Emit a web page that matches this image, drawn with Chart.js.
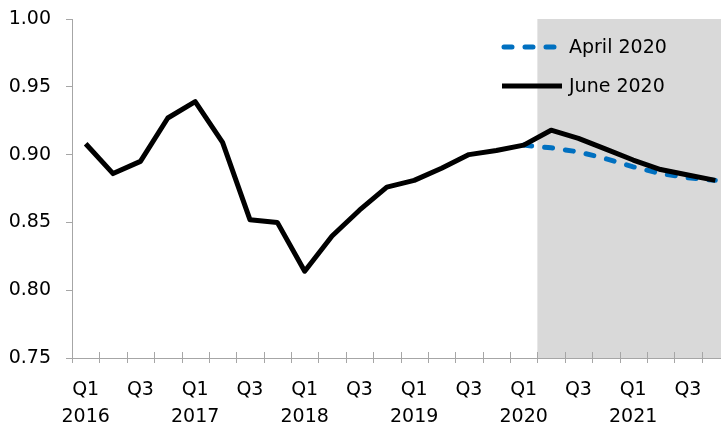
<!DOCTYPE html>
<html>
<head>
<meta charset="utf-8">
<script src="https://cdn.jsdelivr.net/npm/chart.js@4.4.1/dist/chart.umd.min.js"></script>
<style>
  html, body { margin: 0; padding: 0; background: #fff; overflow: hidden; }
  #wrap { width: 721px; height: 428px; overflow: hidden; }
</style>
</head>
<body>
<div id="wrap"><canvas id="chart" width="740" height="428"></canvas></div>
<script>
const quarters = [
    'Q1 2016', 'Q2 2016', 'Q3 2016', 'Q4 2016',
    'Q1 2017', 'Q2 2017', 'Q3 2017', 'Q4 2017',
    'Q1 2018', 'Q2 2018', 'Q3 2018', 'Q4 2018',
    'Q1 2019', 'Q2 2019', 'Q3 2019', 'Q4 2019',
    'Q1 2020', 'Q2 2020', 'Q3 2020', 'Q4 2020',
    'Q1 2021', 'Q2 2021', 'Q3 2021', 'Q4 2021'
];
const tickLabels = [
    ['Q1', '2016'], '', 'Q3', '',
    ['Q1', '2017'], '', 'Q3', '',
    ['Q1', '2018'], '', 'Q3', '',
    ['Q1', '2019'], '', 'Q3', '',
    ['Q1', '2020'], '', 'Q3', '',
    ['Q1', '2021'], '', 'Q3', ''
];
const june2020 = [0.908, 0.886, 0.895, 0.927, 0.939, 0.909, 0.852, 0.850,
                  0.814, 0.840, 0.859, 0.876, 0.881, 0.890, 0.900, 0.903,
                  0.907, 0.918, 0.912, 0.904, 0.896, 0.889, 0.885, 0.881];
const april2020 = [null, null, null, null, null, null, null, null,
                   null, null, null, null, null, null, null, null,
                   0.907, 0.905, 0.902, 0.897, 0.891, 0.886, 0.883, 0.881];
const yTicks = [0.75, 0.80, 0.85, 0.90, 0.95, 1.00];
const shadeFrom = 'Q2 2020';

const FONT = 'DejaVu Sans';
const AXIS = '#a6a6a6';

// grey forecast band from the start of shadeFrom to the right edge
const shadePlugin = {
    id: 'shade',
    beforeDraw(chart) {
        const {ctx, chartArea, scales: {x}} = chart;
        const half = x.width / quarters.length / 2;
        const left = x.getPixelForValue(quarters.indexOf(shadeFrom)) - half;
        ctx.save();
        ctx.fillStyle = '#d9d9d9';
        ctx.fillRect(left, chartArea.top, chartArea.right - left, chartArea.bottom - chartArea.top);
        ctx.restore();
    }
};

// tick marks crossing the x axis, at category boundaries
const xTickPlugin = {
    id: 'xticks',
    afterDraw(chart) {
        const {ctx, scales: {x}} = chart;
        const step = x.width / quarters.length;
        ctx.save();
        ctx.strokeStyle = AXIS;
        ctx.lineWidth = 1;
        for (let i = 0; i <= quarters.length; i++) {
            const px = Math.round(x.left + i * step) + 0.5;
            ctx.beginPath();
            ctx.moveTo(px, x.top - 6);
            ctx.lineTo(px, x.top + 5);
            ctx.stroke();
        }
        ctx.restore();
    }
};

// legend drawn inside the plot, top right
const legendPlugin = {
    id: 'innerLegend',
    afterDraw(chart) {
        const ctx = chart.ctx;
        const order = [1, 0];
        const rows = [47, 86];
        ctx.save();
        order.forEach((idx, r) => {
            const ds = chart.data.datasets[idx];
            ctx.beginPath();
            ctx.strokeStyle = ds.borderColor;
            ctx.lineWidth = ds.borderWidth;
            ctx.lineCap = ds.borderCapStyle || 'butt';
            ctx.setLineDash(ds.borderDash || []);
            ctx.moveTo(ds.borderDash ? 504 : 502, rows[r]);
            ctx.lineTo(ds.borderDash ? 560 : 562, rows[r]);
            ctx.stroke();
            ctx.setLineDash([]);
            ctx.fillStyle = '#000';
            ctx.font = '19px "' + FONT + '"';
            ctx.textBaseline = 'middle';
            ctx.fillText(ds.label, 569, rows[r] + 1);
        });
        ctx.restore();
    }
};

const ctx = document.getElementById('chart').getContext('2d');
new Chart(ctx, {
    type: 'line',
    data: {
        labels: quarters,
        datasets: [{
            label: 'June 2020',
            data: june2020,
            borderColor: '#000000',
            borderWidth: 5,
            borderJoinStyle: 'round',
            pointRadius: 0,
            tension: 0,
            fill: false
        }, {
            label: 'April 2020',
            data: april2020,
            borderColor: '#0070c0',
            borderWidth: 5,
            borderDash: [8, 13],
            borderCapStyle: 'round',
            pointRadius: 0,
            tension: 0,
            fill: false
        }]
    },
    options: {
        responsive: false,
        animation: false,
        events: [],
        layout: { padding: { top: 19, right: 11, left: 0, bottom: 0 } },
        plugins: {
            legend: { display: false },
            tooltip: { enabled: false }
        },
        scales: {
            x: {
                offset: true,
                grid: { display: false, drawTicks: false },
                border: { display: true, color: AXIS, width: 1 },
                afterFit(scale) { scale.height = 70; scale.paddingLeft = 0; scale.paddingRight = 0; },
                ticks: {
                    autoSkip: false,
                    maxRotation: 0,
                    padding: 18,
                    color: '#000',
                    font: { family: FONT, size: 19, lineHeight: 1.45 },
                    callback: (v, i) => tickLabels[i]
                }
            },
            y: {
                min: 0.75,
                max: 1.00,
                afterBuildTicks(scale) { scale.ticks = yTicks.map(v => ({ value: v })); },
                afterFit(scale) { scale.width = 72; scale.paddingTop = 0; scale.paddingBottom = 0; },
                grid: { drawOnChartArea: false, drawTicks: true, tickLength: 6, color: AXIS },
                border: { display: true, color: AXIS, width: 1 },
                ticks: {
                    padding: 15,
                    color: '#000',
                    font: { family: FONT, size: 19 },
                    callback: v => v.toFixed(2)
                }
            }
        }
    },
    plugins: [shadePlugin, xTickPlugin, legendPlugin]
});
</script>
</body>
</html>
